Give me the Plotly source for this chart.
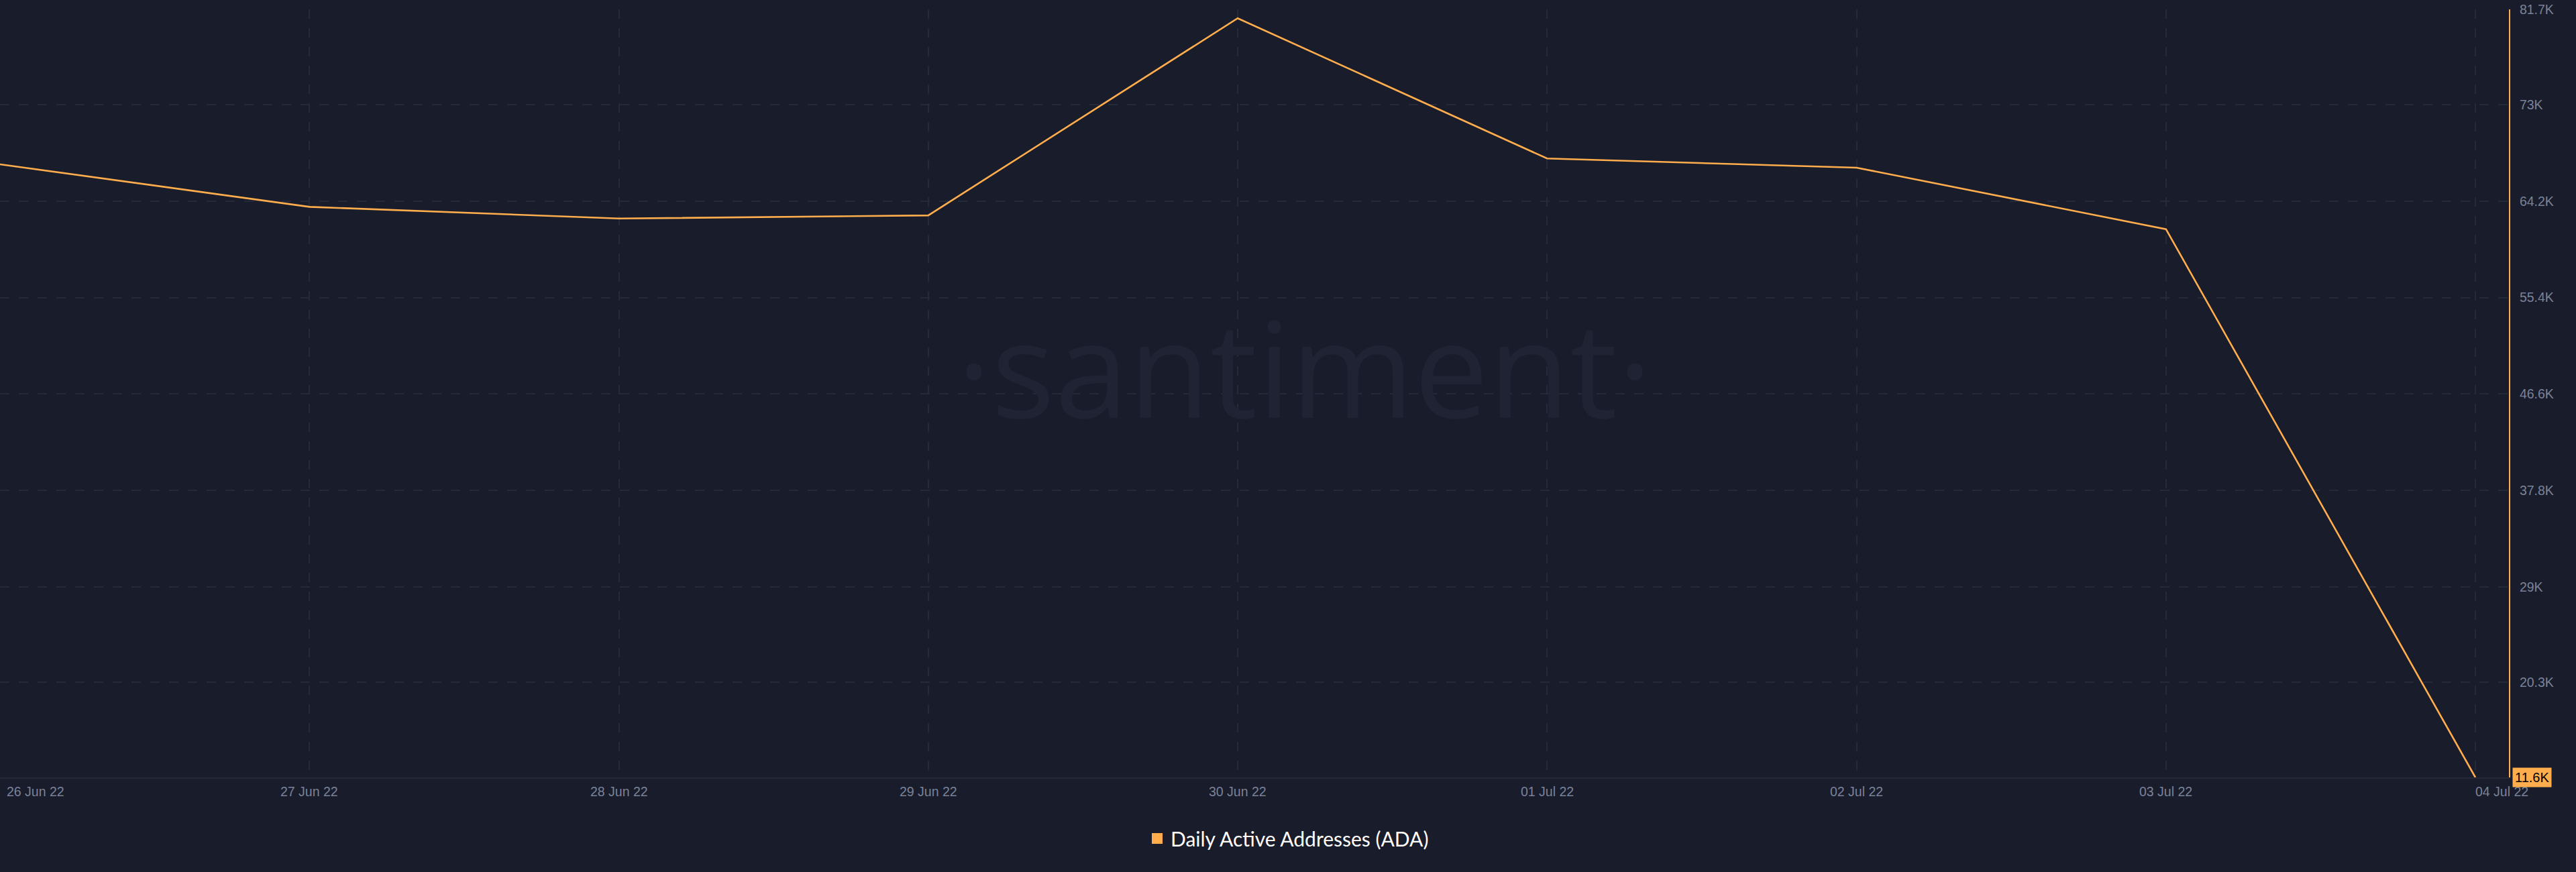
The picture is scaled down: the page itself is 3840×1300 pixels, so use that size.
import plotly.graph_objects as go

# ---- data ----
dates = ["2022-06-26", "2022-06-27", "2022-06-28", "2022-06-29", "2022-06-30",
         "2022-07-01", "2022-07-02", "2022-07-03", "2022-07-04"]
date_labels = ["26 Jun 22", "27 Jun 22", "28 Jun 22", "29 Jun 22", "30 Jun 22",
               "01 Jul 22", "02 Jul 22", "03 Jul 22", "04 Jul 22"]
active_addresses = [67560, 63680, 62610, 62900, 80890, 68090, 67250, 61640, 11600]
y_tick_labels = ["20.3K", "29K", "37.8K", "46.6K", "55.4K", "64.2K", "73K", "81.7K"]
y_min_label = "11.6K"
y_max_label = "81.7K"
series_name = "Daily Active Addresses (ADA)"

def k_to_num(s):
    return float(s[:-1]) * 1000

y_tick_vals = [k_to_num(s) for s in y_tick_labels]

BG = "#191c2b"
GRID = "#252a3a"
ORANGE = "#ffad4d"
TICK = "#7a8399"
FONT = "Liberation Sans, Arial, sans-serif"

fig = go.Figure()
fig.add_trace(go.Scatter(
    x=dates, y=active_addresses, mode="lines",
    line=dict(color=ORANGE, width=2.6),
    showlegend=False, name=series_name,
))
# legend entry with square marker
fig.add_trace(go.Scatter(
    x=[None], y=[None], mode="markers",
    marker=dict(symbol="square", size=18, color=ORANGE),
    name=series_name, showlegend=True,
))

annotations = []
# watermark
annotations.append(dict(
    text="·santiment·", xref="paper", yref="paper", x=0.52, y=0.535,
    xanchor="center", yanchor="middle", showarrow=False,
    font=dict(family="Open Sans", size=198, color="#1f2334"),
))
# x labels
for i, (d, lab) in enumerate(zip(dates, date_labels)):
    if i == 0:
        xa, xs = "left", 8
    elif i == len(dates) - 1:
        xa, xs = "left", -2
    else:
        xa, xs = "center", 0
    annotations.append(dict(
        text=lab, x=d, xref="x", y=0, yref="paper", yanchor="top",
        xanchor=xa, xshift=xs, yshift=-8, showarrow=False,
        font=dict(family=FONT, size=19.5, color=TICK),
    ))
# last value box
annotations.append(dict(
    text=y_min_label, x=1, xref="paper", y=active_addresses[-1], yref="y",
    xanchor="left", yanchor="middle", xshift=5, showarrow=False,
    bgcolor=ORANGE, borderpad=3,
    font=dict(family=FONT, size=20, color="#000000"),
))

fig.update_layout(
    width=3840, height=1300,
    paper_bgcolor=BG, plot_bgcolor=BG,
    margin=dict(l=0, r=100, t=14, b=141),
    annotations=annotations,
    legend=dict(
        orientation="h", xref="container", yref="container",
        x=0.5, y=1 - 1250 / 1300, xanchor="center", yanchor="middle",
        font=dict(family="Lato", size=30, color="#ffffff"),
        bgcolor="rgba(0,0,0,0)",
    ),
    xaxis=dict(
        type="date",
        range=["2022-06-26", "2022-07-04 02:36"],
        tickvals=dates, showticklabels=False,
        showgrid=True, gridcolor=GRID, gridwidth=2, griddash="14px,14px",
        showline=True, linecolor=GRID, linewidth=2,
        zeroline=False, ticks="",
    ),
    yaxis=dict(
        side="right",
        range=[k_to_num(y_min_label), k_to_num(y_max_label)],
        tickvals=y_tick_vals, ticktext=y_tick_labels,
        showgrid=True, gridcolor=GRID, gridwidth=2, griddash="14px,14px",
        showline=True, linecolor=ORANGE, linewidth=2,
        zeroline=False, ticks="outside", ticklen=10, tickcolor=BG,
        tickfont=dict(family=FONT, size=19.5, color=TICK),
    ),
)

fig.write_html(
    "out.html",
    config={"displayModeBar": False},
    post_script="document.body.style.margin='0';document.body.style.background='%s';" % BG,
)
